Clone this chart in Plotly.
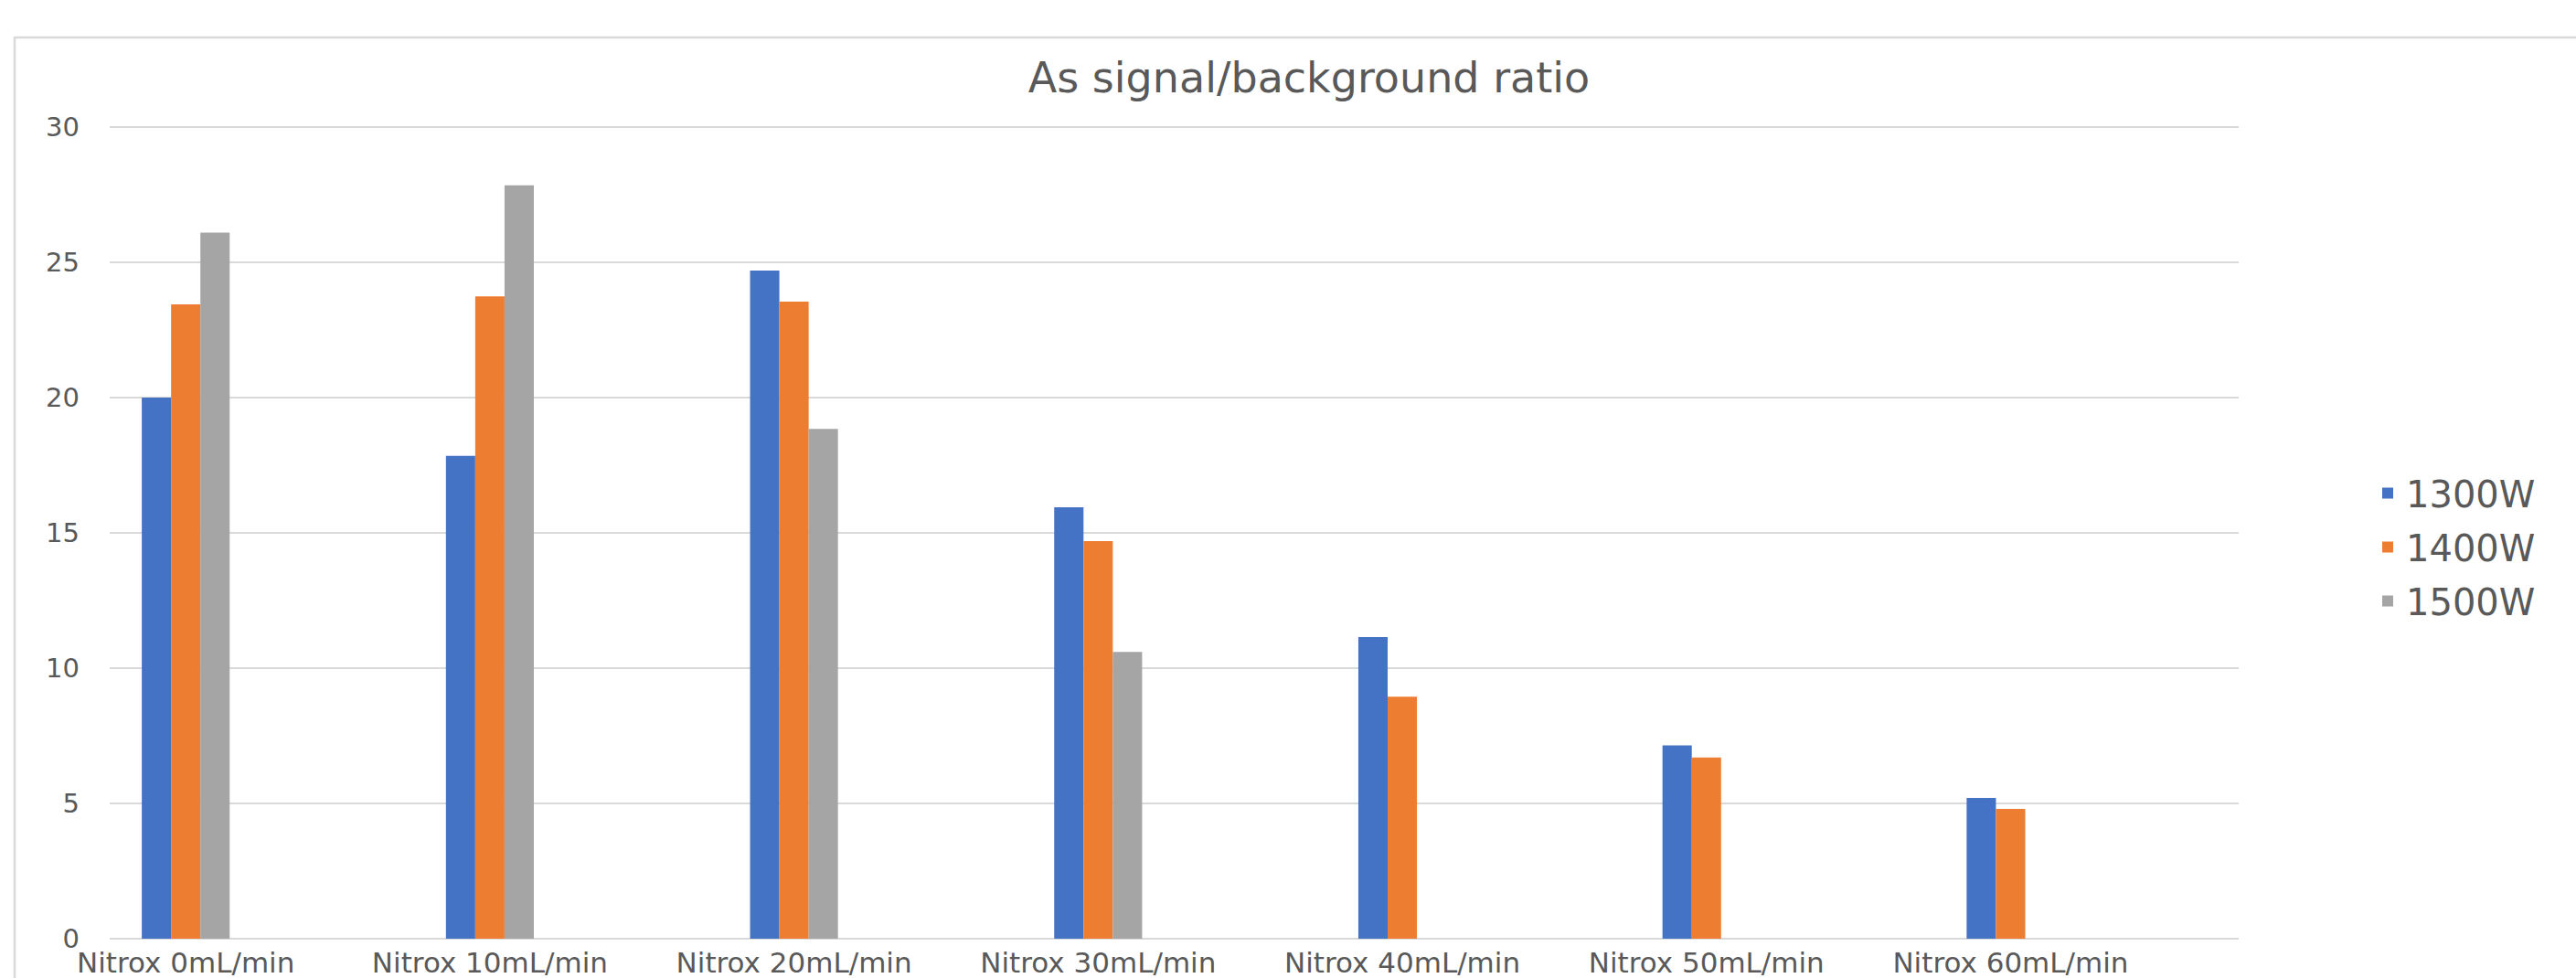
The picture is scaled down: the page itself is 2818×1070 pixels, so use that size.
import plotly.graph_objects as go

categories = ["Nitrox 0mL/min", "Nitrox 10mL/min", "Nitrox 20mL/min", "Nitrox 30mL/min",
              "Nitrox 40mL/min", "Nitrox 50mL/min", "Nitrox 60mL/min"]
series_names = ["1300W", "1400W", "1500W"]
s1300 = [20.0, 17.85, 24.7, 15.95, 11.15, 7.15, 5.2]
s1400 = [23.45, 23.75, 23.55, 14.7, 8.95, 6.7, 4.8]
s1500 = [26.1, 27.85, 18.85, 10.6, None, None, None]
colors = ["#4472C4", "#ED7D31", "#A5A5A5"]
y_ticks = [0, 5, 10, 15, 20, 25, 30]

TXT = "#595959"
FONT = "DejaVu Sans"

fig = go.Figure()
for name, vals, col in zip(series_names, [s1300, s1400, s1500], colors):
    fig.add_trace(go.Bar(x=categories, y=vals, name=name, legendgroup=name,
                         marker=dict(color=col, line=dict(width=0))))

fig.update_layout(
    width=2818, height=1070,
    margin=dict(l=120, r=369, t=138, b=43, autoexpand=False),
    paper_bgcolor="white", plot_bgcolor="white",
    barmode="group", bargap=0.711, bargroupgap=0,
    title=dict(text="As signal/background ratio", x=(1432 - 120) / 2329, xref="paper",
               xanchor="center", y=1 - 85 / 1070, yref="container", yanchor="middle",
               font=dict(family=FONT, size=46, color=TXT)),
    legend=dict(x=(2592 - 120) / 2329, xanchor="left", y=0.482, yanchor="middle",
                font=dict(family=FONT, size=40, color=TXT), tracegroupgap=4,
                bgcolor="rgba(0,0,0,0)"),
    xaxis=dict(range=[-0.25, 6.75], showgrid=False, showline=False, ticks="",
               tickfont=dict(family=FONT, size=31, color=TXT), ticklabelstandoff=5,
               automargin=False, fixedrange=True),
    yaxis=dict(range=[0, 30.04], tickvals=y_ticks, showgrid=True, gridcolor="#D9D9D9",
               gridwidth=1.5, zeroline=True, zerolinecolor="#D9D9D9", zerolinewidth=2,
               showline=False, ticks="", tickfont=dict(family=FONT, size=29, color=TXT),
               ticklabelstandoff=32, automargin=False, fixedrange=True),
    shapes=[dict(type="rect", xref="paper", yref="paper",
                 x0=(16 - 120) / 2329, x1=1.2, y0=-0.2, y1=1 + (138 - 41) / 889,
                 line=dict(color="#D9D9D9", width=2.5), fillcolor="rgba(0,0,0,0)", layer="below")],
)

fig.write_html("out.html", config={"displayModeBar": False},
               post_script="document.body.style.margin='0';document.body.style.overflow='hidden';")
